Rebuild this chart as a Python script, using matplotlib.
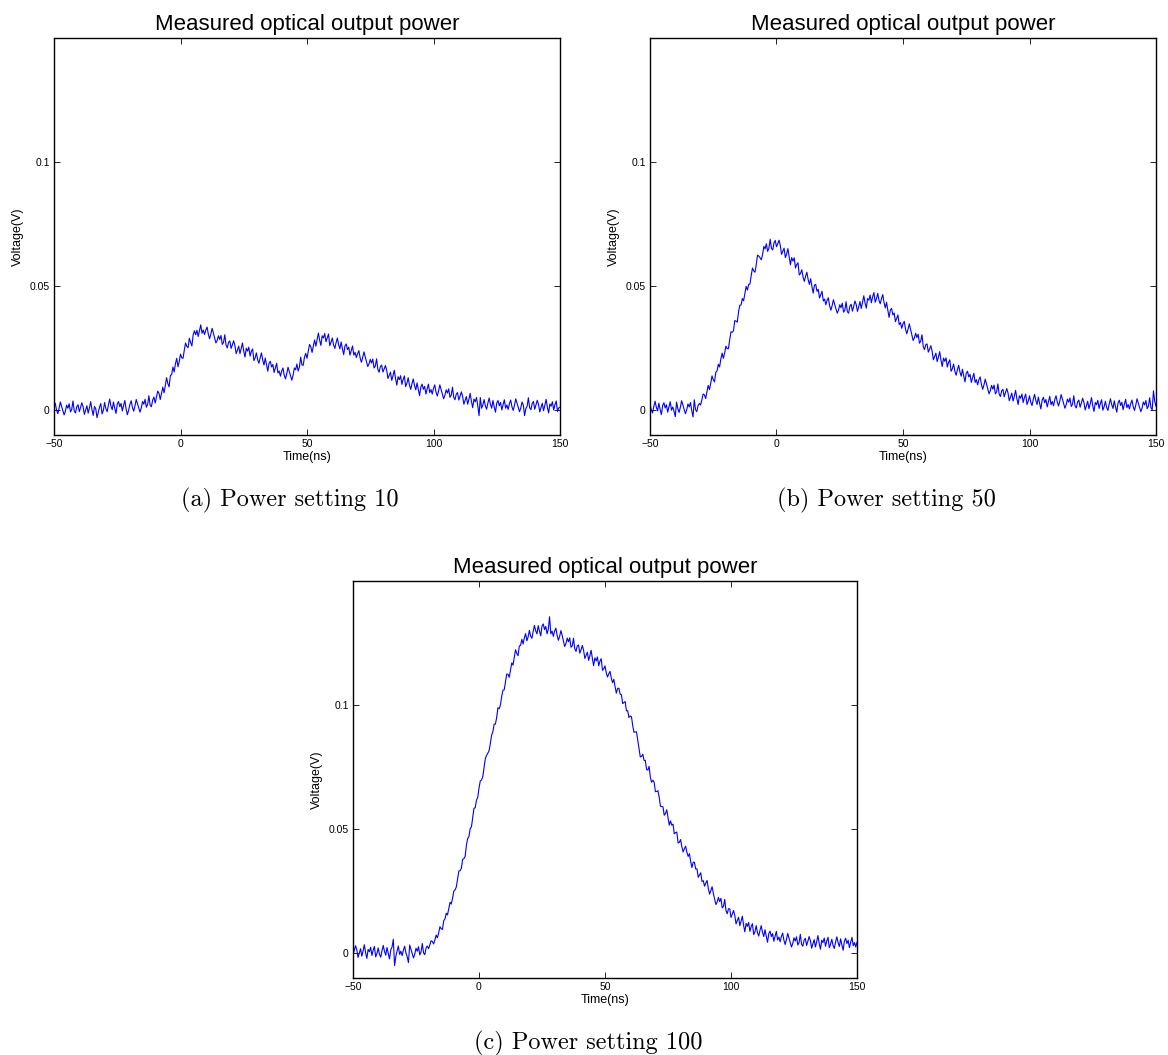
import numpy as np
import matplotlib.pyplot as plt

# oscilloscope record: one sample every 0.5 ns from -50 ns to 150 ns
time_ns = np.arange(-50, 150.5, 0.5)

# detector voltage in mV, one row per 10 ns
power_10_mV = [
    1.3, 2.8, 0.1, -1.4, 0.7, 3.3, 1.6, -0.1, -1.9, -0.4, 2.0, 0.8, 2.6, -0.7, 0.3, 3.7, -0.3, -1.1, 1.4, 2.2,
    -0.6, 1.1, 3.0, 1.4, -1.7, 0.0, 1.8, -1.2, 0.9, 3.4, 0.2, -2.1, 1.5, 0.6, -3.0, -0.9, 1.2, 2.7, -1.5, -0.1,
    3.1, 0.6, -0.6, 2.0, 4.5, 1.7, 0.2, 3.3, 0.8, -1.3, 2.4, 3.5, 1.4, 2.7, -0.3, 1.9, 3.9, 0.5, -1.8, 0.0,
    2.3, 3.8, 1.1, -0.4, 1.7, 4.3, 2.6, 0.9, -0.8, 0.9, 3.5, 2.4, 4.4, 1.2, 2.3, 5.8, 2.0, 1.4, 4.1, 5.3,
    2.9, 5.2, 7.7, 6.8, 4.3, 6.7, 9.3, 7.0, 9.9, 13.1, 10.7, 9.4, 14.0, 14.3, 17.4, 15.4, 18.7, 20.9, 17.5, 19.6,
    22.6, 21.1, 20.9, 24.2, 27.1, 25.7, 25.2, 29.0, 27.3, 25.9, 30.4, 32.0, 30.4, 32.2, 29.7, 32.1, 34.4, 31.0, 32.3, 30.5,
    32.3, 33.5, 30.6, 28.8, 30.7, 33.0, 31.1, 29.1, 27.1, 28.1, 30.0, 28.5, 30.1, 26.5, 27.3, 30.4, 26.2, 25.1, 27.4, 27.9,
    24.9, 26.3, 28.0, 26.1, 22.8, 24.2, 25.8, 22.8, 24.9, 27.1, 23.7, 21.4, 25.0, 23.8, 25.4, 21.8, 23.7, 24.7, 20.0, 21.1,
    23.1, 20.3, 18.9, 21.2, 23.1, 20.2, 18.2, 21.0, 18.3, 15.7, 18.9, 19.7, 17.4, 18.4, 15.2, 17.1, 18.9, 15.0, 15.8, 13.7,
    15.8, 17.0, 14.1, 12.6, 14.7, 17.3, 15.6, 13.9, 12.1, 14.1, 17.0, 16.3, 18.6, 15.8, 17.3, 21.4, 18.2, 18.1, 21.4, 22.9,
    20.9, 23.6, 26.5, 25.6, 23.3, 25.7, 28.3, 25.8, 28.4, 31.1, 28.2, 26.1, 30.0, 29.1, 30.9, 27.6, 29.2, 30.7, 26.0, 27.4,
    29.1, 26.3, 24.9, 27.2, 29.1, 26.4, 24.7, 27.5, 24.8, 22.4, 25.9, 26.7, 24.4, 25.4, 22.2, 24.1, 25.9, 22.2, 23.3, 21.2,
    22.8, 24.0, 21.1, 19.3, 21.2, 23.5, 21.6, 19.6, 17.6, 18.6, 20.5, 19.0, 20.6, 17.0, 17.8, 20.7, 16.4, 15.3, 17.6, 18.2,
    15.4, 16.6, 18.0, 16.1, 12.8, 14.0, 15.3, 12.0, 13.9, 16.1, 12.7, 10.1, 13.5, 12.3, 13.9, 10.4, 12.4, 13.8, 9.5, 10.9,
    13.1, 10.1, 8.4, 10.7, 12.6, 9.9, 8.2, 11.0, 8.3, 5.9, 9.4, 10.5, 8.4, 9.6, 6.5, 8.6, 10.5, 7.1, 8.3, 6.5,
    8.8, 10.2, 7.3, 5.7, 7.7, 10.2, 8.3, 6.5, 4.6, 6.0, 8.2, 6.9, 8.6, 5.2, 6.0, 9.3, 5.2, 4.2, 6.5, 7.1,
    4.1, 5.6, 7.4, 5.6, 2.4, 3.9, 5.5, 2.4, 4.4, 6.8, 3.5, 1.0, 4.5, 3.4, 5.1, 1.7, -2.2, 5.1, 0.8, 2.1,
    4.3, 1.7, 0.4, 2.9, 4.9, 2.4, 0.8, 3.9, 1.3, -0.8, 2.9, 3.9, 1.8, 3.1, 0.1, 2.2, 4.2, 0.8, 2.1, 0.3,
    2.6, 4.1, 1.4, -0.1, 2.0, 4.6, 2.9, 1.2, -0.6, 0.9, 3.3, 2.1, -2.2, 0.6, 1.6, 5.0, 1.0, 0.2, 2.7, 3.5,
    0.4, 2.1, 4.0, 2.4, -0.7, 1.0, 2.8, -0.2, 1.9, 4.4, 1.2, -1.1, 2.5, 1.6, 3.4, 0.1, 2.2, 3.7, -0.5, 0.9,
    1.2,
]

power_50_mV = [
    2.6, 0.1, -1.1, 1.5, 3.6, 1.2, -0.3, 2.8, 0.3, -1.8, 1.9, 3.0, 0.9, 2.2, -0.8, 1.4, 3.4, 0.0, 1.3, -0.5,
    -2.6, 3.3, 0.6, -0.9, 1.2, 3.8, 2.1, 0.4, -1.4, 0.1, 2.5, 1.3, 3.1, -0.2, -2.7, 4.2, 0.2, -0.6, 1.9, 2.7,
    2.1, 4.2, 6.5, 6.2, 4.7, 7.3, 10.0, 8.3, 10.8, 13.8, 12.3, 11.4, 15.3, 15.8, 18.5, 17.4, 20.6, 23.0, 20.9, 23.0,
    25.8, 24.8, 24.8, 28.4, 31.6, 31.4, 32.0, 36.1, 35.9, 35.5, 39.7, 42.3, 42.4, 45.0, 44.1, 47.0, 49.9, 48.4, 50.7, 50.8,
    54.3, 57.3, 56.1, 55.6, 58.7, 62.5, 62.1, 61.4, 60.6, 62.8, 66.0, 65.0, 67.1, 64.0, 65.3, 68.9, 65.2, 64.6, 67.4, 68.4,
    65.9, 67.1, 68.5, 66.4, 62.8, 64.0, 65.3, 61.5, 62.9, 65.1, 61.7, 58.6, 61.5, 60.1, 61.4, 57.3, 58.7, 59.4, 54.5, 55.1,
    56.6, 53.6, 51.9, 54.0, 55.6, 52.7, 50.7, 53.0, 49.8, 47.2, 50.4, 50.7, 47.9, 48.7, 45.2, 46.6, 47.9, 44.0, 44.8, 42.5,
    44.3, 45.3, 42.1, 40.3, 42.2, 44.5, 42.6, 40.9, 39.1, 40.3, 42.5, 41.3, 43.1, 39.5, 40.3, 43.7, 39.7, 39.1, 41.9, 42.7,
    39.9, 41.8, 44.0, 42.6, 39.8, 41.7, 43.8, 41.0, 43.4, 46.1, 43.2, 41.1, 45.0, 44.3, 46.4, 43.3, 45.7, 47.4, 43.5, 44.9,
    47.1, 44.3, 42.9, 45.0, 46.6, 43.4, 41.2, 43.5, 40.3, 37.4, 40.4, 41.0, 38.4, 39.2, 35.7, 37.1, 38.4, 34.5, 35.3, 33.0,
    34.8, 35.8, 32.6, 30.8, 32.7, 34.8, 32.6, 30.4, 28.1, 29.1, 31.0, 29.3, 30.6, 27.0, 27.8, 30.4, 25.7, 24.4, 26.4, 26.7,
    23.4, 24.6, 26.0, 23.9, 20.3, 21.6, 23.0, 19.6, 21.4, 23.6, 20.2, 17.6, 21.0, 19.7, 21.1, 17.4, 19.2, 20.3, 15.7, 16.7,
    18.6, 15.7, 14.1, 16.3, 18.1, 15.4, 13.7, 16.5, 13.8, 11.4, 14.9, 15.7, 13.4, 14.4, 11.2, 13.1, 14.9, 11.2, 12.3, 10.2,
    12.3, 13.4, 10.3, 8.4, 10.2, 12.5, 10.6, 8.6, 6.6, 7.8, 10.0, 8.5, 10.1, 6.6, 7.4, 10.6, 6.5, 5.5, 7.8, 8.4,
    5.4, 7.0, 8.7, 7.0, 3.8, 5.3, 6.9, 3.7, 5.6, 8.0, 4.7, 2.3, 5.8, 4.8, 6.5, 3.1, 5.1, 6.5, 2.3, 3.6,
    5.8, 3.2, 1.9, 4.4, 6.4, 3.9, 2.3, 5.3, 2.7, 0.5, 4.1, 5.2, 3.0, 4.3, 1.3, 3.5, 5.6, 2.2, 3.5, 1.8,
    4.3, 5.8, 3.2, 1.7, 3.8, 6.3, 4.5, 2.7, 0.8, 2.2, 4.5, 3.2, 4.9, 1.5, 2.4, 5.8, 1.7, 0.9, 3.3, 4.1,
    1.2, 2.9, 4.8, 3.2, 0.1, 1.8, 3.6, 0.6, 2.6, 5.1, 1.8, -0.5, 3.1, 2.2, 4.0, 0.7, 2.7, 4.2, 0.0, 1.4,
    3.6, 1.1, -0.1, 2.5, 4.6, 2.2, 0.7, 3.8, 1.3, -0.8, 2.9, 4.0, 1.9, 3.2, 0.2, 2.4, 4.4, 1.0, 2.3, 0.5,
    2.6, 4.1, 1.4, -0.1, 2.0, 4.6, 2.9, 1.2, -0.6, 0.9, 3.3, 2.1, 3.9, 0.6, 1.6, 5.0, 1.0, 0.2, 7.8, 3.5,
    1.6,
]

power_100_mV = [
    -0.6, 1.1, 3.0, 1.4, -1.7, 0.0, 1.8, -1.2, 0.9, 3.4, 0.2, -2.1, 1.5, 0.6, 2.4, -0.9, 1.2, 2.7, -1.5, -0.1,
    2.1, -0.4, -1.6, 1.0, 3.1, 0.7, -0.8, 2.3, -0.2, -2.3, 1.4, 2.5, 5.6, -5.0, -1.3, 0.9, 2.9, -0.5, 0.8, -1.0,
    1.3, 2.8, 0.1, -1.4, -3.8, 3.3, 1.6, -0.1, -1.9, -0.4, 2.0, 0.8, 2.6, -0.7, 0.5, 3.9, 0.1, -0.6, 2.1, 2.9,
    1.8, 3.4, 5.0, 4.7, 3.7, 5.4, 7.3, 6.2, 8.2, 10.7, 9.8, 9.6, 13.1, 13.8, 16.1, 15.4, 17.9, 20.5, 19.8, 22.1,
    25.0, 25.5, 26.7, 30.0, 33.1, 33.3, 34.2, 37.8, 38.1, 39.0, 43.5, 46.2, 46.9, 50.2, 50.9, 54.7, 58.4, 58.6, 61.7, 62.8,
    66.5, 69.4, 69.8, 71.1, 74.6, 78.4, 79.7, 80.6, 81.6, 84.5, 87.9, 89.2, 92.3, 92.3, 94.9, 98.9, 98.5, 100.0, 103.5, 106.0,
    106.1, 109.2, 112.5, 112.4, 111.2, 114.1, 117.0, 116.1, 119.3, 122.3, 120.8, 119.9, 123.8, 124.1, 126.5, 124.6, 127.1, 128.8, 125.9, 127.5,
    130.1, 127.8, 126.9, 129.7, 132.1, 129.9, 128.7, 132.0, 129.8, 127.9, 131.9, 132.7, 130.4, 131.7, 128.7, 130.6, 135.6, 128.7, 129.8, 127.7,
    129.8, 131.0, 128.1, 126.1, 127.7, 130.0, 128.1, 125.9, 123.6, 124.8, 127.0, 125.5, 127.1, 123.3, 123.8, 126.9, 122.7, 121.6, 123.9, 124.2,
    120.9, 122.3, 124.0, 122.1, 118.8, 120.0, 121.3, 118.0, 119.9, 122.1, 118.7, 115.9, 119.0, 117.8, 119.4, 115.8, 117.7, 118.7, 114.0, 114.6,
    115.8, 113.0, 111.3, 112.6, 113.6, 110.9, 109.0, 110.4, 107.4, 104.8, 106.7, 106.8, 104.4, 104.2, 100.6, 101.0, 101.4, 97.7, 97.7, 95.0,
    95.6, 95.3, 91.7, 89.0, 89.2, 89.2, 85.9, 82.5, 79.1, 79.3, 80.2, 77.7, 77.7, 74.0, 73.8, 75.3, 70.9, 68.9, 69.7, 68.9,
    65.1, 65.2, 65.5, 62.9, 59.2, 59.1, 59.0, 55.6, 56.3, 57.8, 54.8, 51.6, 53.3, 51.6, 52.0, 48.1, 48.6, 48.8, 44.4, 44.7,
    45.8, 42.8, 40.8, 42.1, 43.1, 40.7, 39.0, 40.1, 36.9, 34.5, 36.7, 36.6, 33.9, 34.0, 30.6, 31.5, 32.4, 28.9, 29.2, 27.0,
    28.3, 29.3, 26.1, 23.8, 25.2, 26.8, 24.1, 21.9, 19.6, 20.6, 22.5, 20.8, 22.1, 18.3, 18.8, 21.7, 17.2, 15.9, 17.9, 17.9,
    14.4, 15.7, 17.2, 15.3, 11.8, 13.1, 14.5, 11.1, 12.9, 14.9, 11.2, 8.6, 12.0, 10.8, 12.4, 8.8, 10.7, 11.9, 7.5, 8.6,
    11.1, 8.3, 6.9, 9.2, 11.1, 8.4, 6.7, 9.5, 6.8, 4.4, 7.9, 8.9, 6.7, 7.9, 4.8, 6.9, 8.8, 5.3, 6.5, 4.6,
    6.8, 8.1, 5.2, 3.5, 5.5, 8.0, 6.2, 4.4, 2.5, 3.9, 6.2, 4.9, 6.6, 3.3, 4.2, 7.6, 3.6, 2.8, 5.2, 6.0,
    3.1, 4.8, 6.7, 5.1, 2.0, 3.7, 5.5, 2.5, 4.6, 7.1, 3.9, 1.6, 5.2, 4.3, 6.1, 2.8, 4.9, 6.4, 2.2, 3.6,
    5.6, 3.1, 1.9, 4.5, 6.6, 4.2, 2.7, 5.8, 3.3, 1.2, 4.9, 6.0, 3.9, 5.2, 2.2, 4.4, 6.4, 3.0, 4.3, 2.5,
    4.4,
]

captions = ['(a) Power setting 10', '(b) Power setting 50', '(c) Power setting 100']
x_ticks = [-50, 0, 50, 100, 150]
y_ticks = [0, 0.05, 0.1]
y_tick_labels = ['0', '0.05', '0.1']

plt.rcParams['font.family'] = ['Liberation Sans', 'DejaVu Sans']

fig = plt.figure(figsize=(11.68, 10.55), dpi=100)
W, H = 1168, 1055

# axes boxes in pixels: left, top, right, bottom
boxes = [(54, 38, 560, 435), (650, 38, 1156, 435), (353, 581, 857, 978)]
traces = [power_10_mV, power_50_mV, power_100_mV]

for box, trace, caption in zip(boxes, traces, captions):
    l, t, r, b = box
    ax = fig.add_axes([l / W, 1 - b / H, (r - l) / W, (b - t) / H])
    ax.plot(time_ns, np.array(trace) / 1000.0, color='#0000ff', linewidth=0.8)
    ax.set_xlim(-50, 150)
    ax.set_ylim(-0.01, 0.15)
    ax.set_xticks(x_ticks)
    ax.set_yticks(y_ticks)
    ax.set_yticklabels(y_tick_labels)
    ax.tick_params(direction='in', top=True, right=True, length=4,
                   width=0.6, labelsize=7.5, pad=3)
    for s in ax.spines.values():
        s.set_linewidth(1.0)
    ax.set_title('Measured optical output power', fontsize=16, pad=6)
    ax.set_xlabel('Time(ns)', fontsize=9, labelpad=1)
    ax.set_ylabel('Voltage(V)', fontsize=9, labelpad=4)
    # subfigure caption below the axes
    fig.text((l + r) / 2 / W - 17 / W, 1 - (b + 65) / H, caption,
             fontfamily='cmr10', fontsize=17.5, ha='center', va='center')

fig.savefig('out.png', dpi=100)
